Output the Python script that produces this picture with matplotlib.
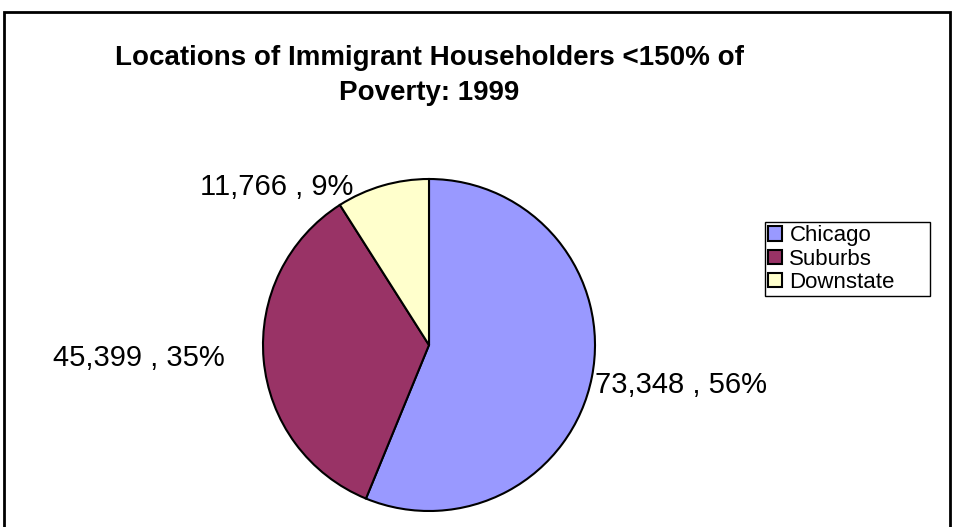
import matplotlib
matplotlib.use("Agg")
import matplotlib.pyplot as plt
from matplotlib.patches import Rectangle

plt.rcParams['font.family'] = ['Liberation Sans', 'DejaVu Sans']

# households below 150% of poverty, by region
regions = ['Chicago', 'Suburbs', 'Downstate']
households = [73348, 45399, 11766]
shares = [56, 35, 9]
colors = ['#9999ff', '#993366', '#ffffcc']

# label anchor points in pie units (radius = 1) and their alignment
label_xy = [(1.0, -0.24), (-1.23, -0.08), (-0.92, 0.95)]
label_ha = ['left', 'right', 'center']

W, H = 955, 527
fig = plt.figure(figsize=(W / 100, H / 100), dpi=100)

# chart area border
fig.patches.append(Rectangle((4 / W, -0.02), 946 / W, 1 - 12 / H + 0.02,
                             transform=fig.transFigure, fill=False,
                             edgecolor='black', linewidth=2))

cx, cy, r = 429, 345, 166
ax = fig.add_axes([(cx - r) / W, (H - cy - r) / H, 2 * r / W, 2 * r / H])
wedges, _ = ax.pie(households, colors=colors, startangle=90, counterclock=False,
                   radius=1, wedgeprops=dict(edgecolor='black', linewidth=1.5))
ax.set_xlim(-1, 1)
ax.set_ylim(-1, 1)
ax.set_aspect('equal')
ax.axis('off')

for (x, y), ha, n, s in zip(label_xy, label_ha, households, shares):
    ax.text(x, y, f"{n:,} , {s}%", ha=ha, va='center', fontsize=21, clip_on=False)

fig.text(429 / W, 1 - 58 / H, "Locations of Immigrant Householders <150% of",
         ha='center', va='center', fontsize=20, fontweight='bold')
fig.text(429 / W, 1 - 93 / H, "Poverty: 1999",
         ha='center', va='center', fontsize=20, fontweight='bold')

# legend box spans a fixed strip at the right of the chart
leg = fig.legend(wedges, regions, loc='upper left', mode='expand',
                 bbox_to_anchor=(765 / W, (H - 292) / H, 165 / W, 70 / H),
                 fontsize=16, frameon=True, fancybox=False, framealpha=1,
                 handlelength=0.6, handleheight=0.6, handletextpad=0.35,
                 labelspacing=0.1, borderpad=0.15, borderaxespad=0)
leg.get_frame().set_edgecolor('black')
leg.get_frame().set_linewidth(1)

fig.savefig('out.png', dpi=100)
